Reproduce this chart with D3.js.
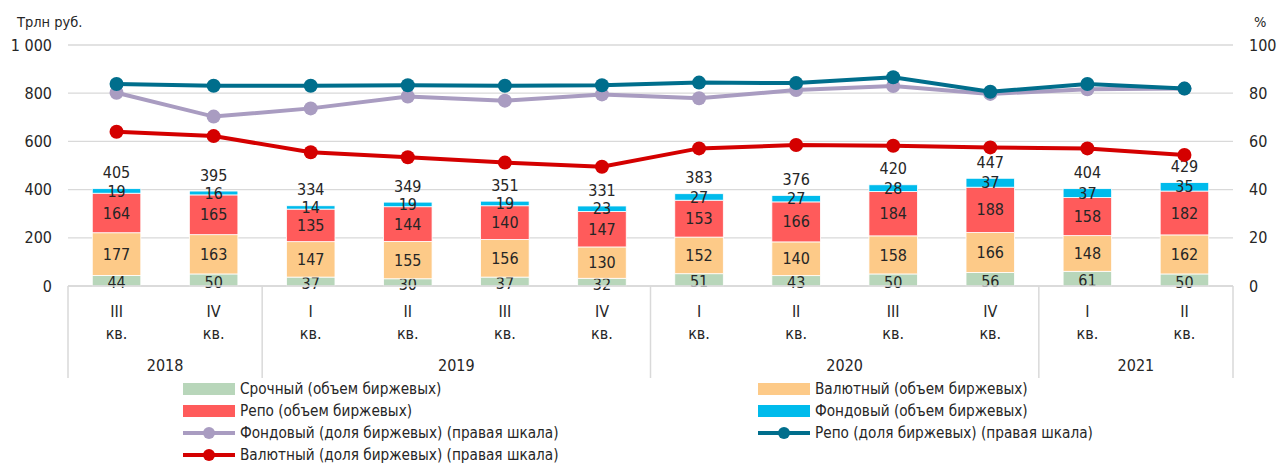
<!DOCTYPE html>
<html>
<head>
<meta charset="utf-8">
<script src="https://cdn.jsdelivr.net/npm/d3@7"></script>
<style>
  body { margin: 0; background: #fff; }
  svg text { font-family: "DejaVu Sans Condensed", "Liberation Sans Narrow", sans-serif; fill: #262626; }
</style>
</head>
<body>
<script>
   // chart data
   let quarters = ['III', 'IV', 'I', 'II', 'III', 'IV', 'I', 'II', 'III', 'IV', 'I', 'II'];
   let years = [2018, 2018, 2019, 2019, 2019, 2019, 2020, 2020, 2020, 2020, 2021, 2021];
   let srochny = [44, 50, 37, 30, 37, 32, 51, 43, 50, 56, 61, 50];
   let valutny = [177, 163, 147, 155, 156, 130, 152, 140, 158, 166, 148, 162];
   let repo = [164, 165, 135, 144, 140, 147, 153, 166, 184, 188, 158, 182];
   let fondovy = [19, 16, 14, 19, 19, 23, 27, 27, 28, 37, 37, 35];
   let totals = [405, 395, 334, 349, 351, 331, 383, 376, 420, 447, 404, 429];
   let fondovyShare = [80.2, 70.3, 73.7, 78.6, 76.9, 79.5, 77.9, 81.3, 83.0, 79.7, 81.6, 81.9];
   let repoShare = [83.8, 83.1, 83.1, 83.3, 83.1, 83.3, 84.4, 84.2, 86.6, 80.6, 83.8, 81.9];
   let valutnyShare = [64.0, 62.2, 55.5, 53.4, 51.2, 49.5, 57.1, 58.5, 58.2, 57.5, 57.1, 54.4];
   let leftTicks = [0, 200, 400, 600, 800, 1000];
   let rightTicks = [0, 20, 40, 60, 80, 100];

   // canvas
   let width = 1277;
   let height = 464;
   let plotLeft = 68;
   let plotRight = 1233;
   let plotTop = 45;
   let plotBottom = 286;
   let fontSize = '16px';
   let svg = d3.select('body').append('svg')
      .attr('width', width)
      .attr('height', height);

   let idx = quarters.map((q, i) => i);
   let xScale = d3.scaleBand()
      .domain(idx)
      .range([plotLeft, plotRight])
      .paddingInner(0.5)
      .paddingOuter(0.25);
   let step = xScale.step();
   let yScale = d3.scaleLinear().domain([0, 1000]).range([plotBottom, plotTop]);
   let yRight = d3.scaleLinear().domain([0, 100]).range([plotBottom, plotTop]);

   // gridlines
   svg.append('g')
      .selectAll('line')
      .data(leftTicks)
      .enter()
      .append('line')
      .attr('x1', plotLeft)
      .attr('x2', plotRight)
      .attr('y1', d => yScale(d))
      .attr('y2', d => yScale(d))
      .attr('stroke', '#d9d9d9')
      .attr('stroke-width', 1.3);

   // axis labels
   let fmt = d => d >= 1000 ? d3.format(',')(d).replace(',', '\u00a0') : d;
   svg.append('g')
      .selectAll('text')
      .data(leftTicks)
      .enter()
      .append('text')
      .attr('x', 52)
      .attr('y', d => yScale(d))
      .attr('dy', '0.35em')
      .attr('text-anchor', 'end')
      .style('font-size', fontSize)
      .text(fmt);
   svg.append('g')
      .selectAll('text')
      .data(rightTicks)
      .enter()
      .append('text')
      .attr('x', 1249)
      .attr('y', d => yRight(d))
      .attr('dy', '0.35em')
      .style('font-size', fontSize)
      .text(d => d);
   svg.append('text').attr('x', 17).attr('y', 27).style('font-size', '14.5px').text('Трлн руб.');
   svg.append('text').attr('x', 1254).attr('y', 27).style('font-size', '14.5px').text('%');

   // stacked bars
   let series = [
      { name: 'Срочный (объем биржевых)', values: srochny, color: '#b8d6ba' },
      { name: 'Валютный (объем биржевых)', values: valutny, color: '#fdca88' },
      { name: 'Репо (объем биржевых)', values: repo, color: '#ff5b5b' },
      { name: 'Фондовый (объем биржевых)', values: fondovy, color: '#00bbec' }
   ];
   let rows = idx.map(i => {
      let r = { i: i };
      series.forEach((s, k) => r['s' + k] = s.values[i]);
      return r;
   });
   let stacked = d3.stack().keys(series.map((s, k) => 's' + k))(rows);

   stacked.forEach((layer, k) => {
      let g = svg.append('g');
      g.selectAll('rect')
         .data(layer)
         .enter()
         .append('rect')
         .attr('x', d => xScale(d.data.i))
         .attr('width', xScale.bandwidth())
         .attr('y', d => yScale(d[1]))
         .attr('height', d => yScale(d[0]) - yScale(d[1]))
         .attr('fill', series[k].color)
         .attr('stroke', '#fff')
         .attr('stroke-width', 0.8);
      g.selectAll('text')
         .data(layer)
         .enter()
         .append('text')
         .attr('x', d => xScale(d.data.i) + xScale.bandwidth() / 2)
         .attr('y', d => yScale((d[0] + d[1]) / 2) + (k === 0 ? 2 : 0))
         .attr('dy', '0.35em')
         .attr('text-anchor', 'middle')
         .style('font-size', fontSize)
         .text(d => d.data['s' + k]);
   });

   // total labels
   svg.append('g')
      .selectAll('text')
      .data(idx)
      .enter()
      .append('text')
      .attr('x', i => xScale(i) + xScale.bandwidth() / 2)
      .attr('y', i => yScale(d3.sum(series, s => s.values[i])) - 16)
      .attr('dy', '0.35em')
      .attr('text-anchor', 'middle')
      .style('font-size', fontSize)
      .text(i => totals[i]);

   // share lines (right scale)
   let lines = [
      { name: 'Фондовый (доля биржевых) (правая шкала)', values: fondovyShare, color: '#a99cc1' },
      { name: 'Валютный (доля биржевых) (правая шкала)', values: valutnyShare, color: '#d40000' },
      { name: 'Репо (доля биржевых) (правая шкала)', values: repoShare, color: '#006e8c' }
   ];
   let cx = i => xScale(i) + xScale.bandwidth() / 2;
   let lineGen = d3.line().x((v, i) => cx(i)).y(v => yRight(v));
   lines.forEach(l => {
      svg.append('path')
         .datum(l.values)
         .attr('d', lineGen)
         .attr('fill', 'none')
         .attr('stroke', l.color)
         .attr('stroke-width', 4);
      svg.append('g')
         .selectAll('circle')
         .data(l.values)
         .enter()
         .append('circle')
         .attr('cx', (v, i) => cx(i))
         .attr('cy', v => yRight(v))
         .attr('r', 7)
         .attr('fill', l.color);
   });

   // category axis
   let axisG = svg.append('g');
   axisG.append('line')
      .attr('x1', plotLeft).attr('x2', plotRight)
      .attr('y1', plotBottom).attr('y2', plotBottom)
      .attr('stroke', '#d9d9d9').attr('stroke-width', 1.5);
   axisG.selectAll('.q')
      .data(idx)
      .enter()
      .append('text')
      .attr('x', cx)
      .attr('y', 317)
      .attr('text-anchor', 'middle')
      .style('font-size', fontSize)
      .text(i => quarters[i]);
   axisG.selectAll('.kv')
      .data(idx)
      .enter()
      .append('text')
      .attr('x', cx)
      .attr('y', 339)
      .attr('text-anchor', 'middle')
      .style('font-size', fontSize)
      .text('кв.');

   let yearGroups = d3.groups(idx, i => years[i]);
   let boundaries = yearGroups.map(g => xScale(g[1][0]) - step * 0.25);
   boundaries.push(plotRight);
   axisG.selectAll('.sep')
      .data(boundaries)
      .enter()
      .append('line')
      .attr('x1', d => d).attr('x2', d => d)
      .attr('y1', plotBottom).attr('y2', 378)
      .attr('stroke', '#d9d9d9').attr('stroke-width', 1.5);
   axisG.selectAll('.yr')
      .data(yearGroups)
      .enter()
      .append('text')
      .attr('x', (g, k) => (boundaries[k] + boundaries[k + 1]) / 2)
      .attr('y', 371)
      .attr('text-anchor', 'middle')
      .style('font-size', fontSize)
      .text(g => g[0]);

   // legend
   let legendItems = [
      { item: series[0], type: 'bar', col: 0, row: 0 },
      { item: series[2], type: 'bar', col: 0, row: 1 },
      { item: lines[0], type: 'line', col: 0, row: 2 },
      { item: lines[1], type: 'line', col: 0, row: 3 },
      { item: series[1], type: 'bar', col: 1, row: 0 },
      { item: series[3], type: 'bar', col: 1, row: 1 },
      { item: lines[2], type: 'line', col: 1, row: 2 }
   ];
   let colX = [183, 758];
   let legend = svg.append('g')
      .selectAll('g')
      .data(legendItems)
      .enter()
      .append('g')
      .attr('transform', d => 'translate(' + colX[d.col] + ',' + (389 + d.row * 22) + ')');
   legend.filter(d => d.type === 'bar')
      .append('rect')
      .attr('x', 0).attr('y', -6)
      .attr('width', 52).attr('height', 12)
      .attr('fill', d => d.item.color);
   legend.filter(d => d.type === 'line')
      .append('line')
      .attr('x1', 0).attr('x2', 52)
      .attr('stroke', d => d.item.color)
      .attr('stroke-width', 4);
   legend.filter(d => d.type === 'line')
      .append('circle')
      .attr('cx', 26).attr('r', 6)
      .attr('fill', d => d.item.color);
   legend.append('text')
      .attr('x', 57)
      .attr('dy', '0.35em')
      .style('font-size', '15.2px')
      .text(d => d.item.name);
</script>
</body>
</html>
